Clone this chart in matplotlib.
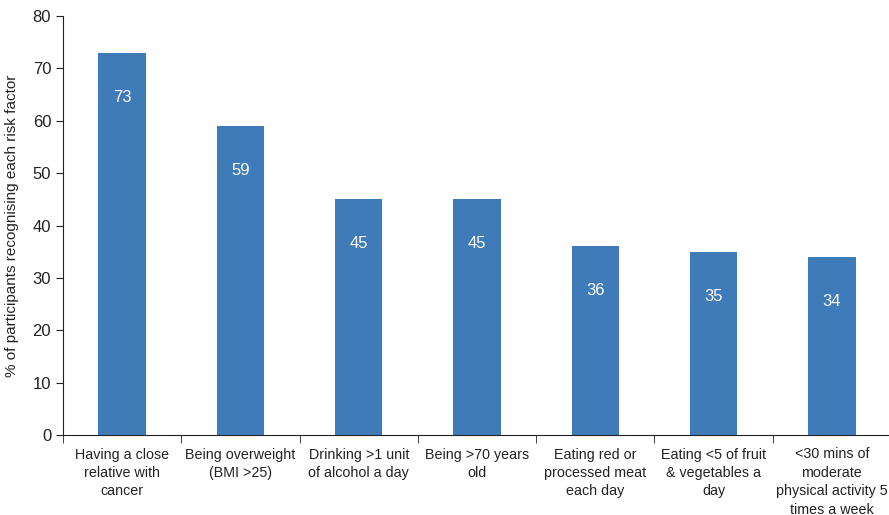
import numpy as np
import matplotlib.pyplot as plt
from matplotlib.ticker import FixedLocator

plt.rcParams['font.family'] = ['Liberation Sans', 'DejaVu Sans']

risk_factors = [
    "Having a close\nrelative with\ncancer",
    "Being overweight\n(BMI >25)",
    "Drinking >1 unit\nof alcohol a day",
    "Being >70 years\nold",
    "Eating red or\nprocessed meat\neach day",
    "Eating <5 of fruit\n& vegetables a\nday",
    "<30 mins of\nmoderate\nphysical activity 5\ntimes a week",
]
percent_recognising = [73, 59, 45, 45, 36, 35, 34]

fig = plt.figure(figsize=(8.89, 5.15), dpi=100)
ax = fig.add_axes([63 / 889, 80 / 515, 828 / 889, 419 / 515])

x = np.arange(len(risk_factors))
bars = ax.bar(x, percent_recognising, width=0.4, color='#3f7ab9')

# value labels sit inside the top of each bar
for b, v in zip(bars, percent_recognising):
    ax.annotate(str(v), (b.get_x() + b.get_width() / 2, v),
                xytext=(0, -32), textcoords='offset points',
                ha='center', va='center', color='white', fontsize=12)

ax.set_xlim(-0.5, len(risk_factors) - 0.5)
ax.set_ylim(0, 80)
ax.set_yticks(range(0, 81, 10))
ax.tick_params(axis='y', labelsize=12, length=5, direction='out',
               colors='#222222')

ax.set_xticks(x)
ax.set_xticklabels(risk_factors, fontsize=10.3, linespacing=1.4, color='#222222')
ax.tick_params(axis='x', which='major', length=0, pad=9)
ax.xaxis.set_minor_locator(FixedLocator(np.arange(-0.5, len(risk_factors), 1.0)))
ax.tick_params(axis='x', which='minor', length=6, direction='out', color='#222222')

for side in ('top', 'right'):
    ax.spines[side].set_visible(False)
for side in ('left', 'bottom'):
    ax.spines[side].set_color('#222222')

ax.set_ylabel('% of participants recognising each risk factor', fontsize=11,
              labelpad=10, color='#222222')

fig.savefig('out.png', dpi=100)
